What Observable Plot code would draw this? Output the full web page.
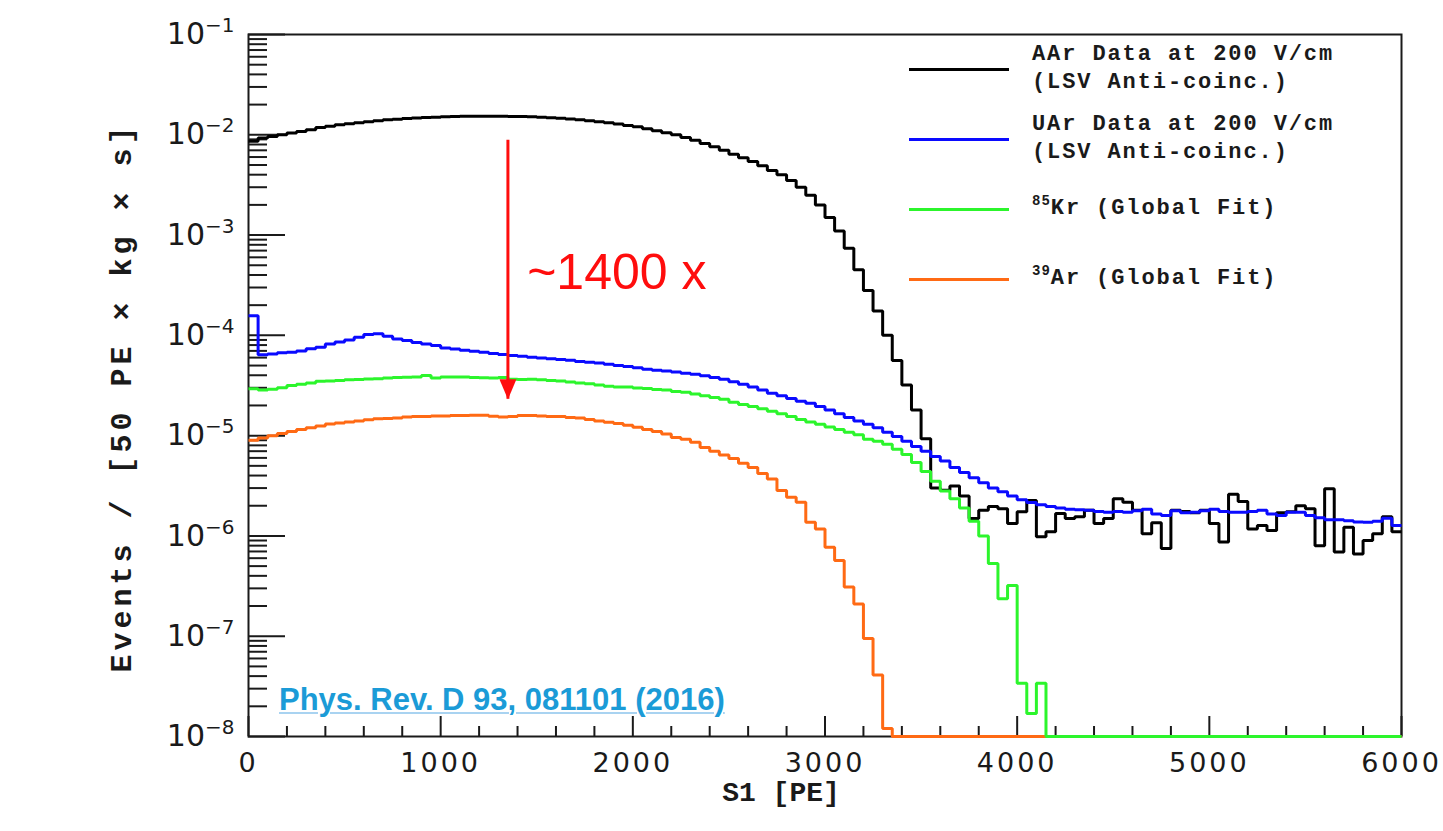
<!DOCTYPE html>
<html>
<head>
<meta charset="utf-8">
<script src="https://cdn.jsdelivr.net/npm/d3@7"></script>
<script src="https://cdn.jsdelivr.net/npm/@observablehq/plot@0.6"></script>
<style>
  html, body { margin: 0; padding: 0; background: #ffffff; }
  #wrap { position: relative; width: 1443px; height: 831px; overflow: hidden; background: #fff; }
  #wrap svg { position: absolute; left: 0; top: 0; }
  g[aria-label="x-axis tick label"] text { letter-spacing: 3px; }
  .legline { position: absolute; height: 3px; width: 100px; left: 909px; }
  .legtxt { position: absolute; left: 1032px; font-family: "Liberation Mono", "Courier New", monospace; font-weight: bold; font-size: 22px; letter-spacing: 1.9px; line-height: 28px; color: #1a1a1a; white-space: pre; }
  .legtxt .sup { font-size: 14px; letter-spacing: 1px; position: relative; top: -9px; }
  #cite { position: absolute; left: 279px; top: 684px; font-family: "Liberation Sans", Arial, sans-serif; font-weight: bold; font-size: 31px; line-height: 1; color: #1b9bd7; text-decoration: underline; text-decoration-color: #a9d3f1; text-decoration-thickness: 2px; text-underline-offset: 2px; white-space: pre; }
</style>
</head>
<body>
<div id="wrap"></div>
<script>
// ---------------- data (rates per 50 PE bin, 0 .. 6000 PE) ----------------
const binWidth = 50;
const sMin = 0, sMax = 6000;

const aarRate = [
  8.6e-3, 9.3e-3, 9.6e-3, 1.0e-2, 1.04e-2, 1.08e-2, 1.12e-2, 1.18e-2, 1.22e-2, 1.26e-2,
  1.29e-2, 1.32e-2, 1.35e-2, 1.38e-2, 1.41e-2, 1.43e-2, 1.45e-2, 1.47e-2, 1.49e-2, 1.5e-2,
  1.51e-2, 1.52e-2, 1.53e-2, 1.53e-2, 1.53e-2, 1.53e-2, 1.53e-2, 1.52e-2, 1.52e-2, 1.51e-2,
  1.5e-2, 1.48e-2, 1.46e-2, 1.44e-2, 1.41e-2, 1.38e-2, 1.35e-2, 1.32e-2, 1.28e-2, 1.24e-2,
  1.2e-2, 1.15e-2, 1.1e-2, 1.05e-2, 1.0e-2, 9.4e-3, 8.8e-3, 8.2e-3, 7.6e-3, 7.0e-3,
  6.4e-3, 5.9e-3, 5.4e-3, 4.9e-3, 4.4e-3, 4.0e-3, 3.5e-3, 3.0e-3, 2.5e-3, 2.0e-3,
  1.5e-3, 1.1e-3, 7.4e-4, 4.5e-4, 2.8e-4, 1.75e-4, 1.0e-4, 5.6e-5, 3.2e-5, 1.8e-5,
  9.3e-6, 3.0e-6, 2.86e-6, 3.15e-6, 2.5e-6, 1.49e-6, 1.8e-6, 1.97e-6, 1.87e-6, 1.33e-6,
  1.74e-6, 2.26e-6, 9.8e-7, 1.1e-6, 1.67e-6, 1.49e-6, 1.55e-6, 1.8e-6, 1.33e-6, 1.49e-6,
  2.35e-6, 2.17e-6, 1.8e-6, 1.05e-6, 1.35e-6, 7.5e-7, 1.8e-6, 1.75e-6, 1.7e-6, 1.8e-6,
  1.33e-6, 8.7e-7, 2.6e-6, 2.2e-6, 1.17e-6, 1.27e-6, 1.13e-6, 1.7e-6, 1.74e-6, 2.0e-6,
  1.87e-6, 8.0e-7, 2.95e-6, 6.9e-7, 1.22e-6, 6.6e-7, 9.0e-7, 1.05e-6, 1.55e-6, 1.1e-6
];

const uarRate = [
  1.57e-4, 6.4e-5, 6.5e-5, 6.7e-5, 6.8e-5, 7.0e-5, 7.35e-5, 7.6e-5, 8.2e-5, 8.6e-5,
  9.0e-5, 9.6e-5, 1.02e-4, 1.04e-4, 9.8e-5, 9.2e-5, 8.9e-5, 8.5e-5, 8.2e-5, 7.9e-5,
  7.5e-5, 7.3e-5, 7.1e-5, 6.95e-5, 6.8e-5, 6.6e-5, 6.45e-5, 6.3e-5, 6.2e-5, 6.05e-5,
  5.95e-5, 5.83e-5, 5.75e-5, 5.65e-5, 5.5e-5, 5.4e-5, 5.3e-5, 5.15e-5, 5.0e-5, 4.9e-5,
  4.75e-5, 4.6e-5, 4.5e-5, 4.4e-5, 4.3e-5, 4.2e-5, 4.1e-5, 3.95e-5, 3.8e-5, 3.65e-5,
  3.45e-5, 3.25e-5, 3.05e-5, 2.85e-5, 2.65e-5, 2.5e-5, 2.35e-5, 2.2e-5, 2.1e-5, 1.95e-5,
  1.8e-5, 1.65e-5, 1.52e-5, 1.4e-5, 1.3e-5, 1.2e-5, 1.08e-5, 9.8e-6, 8.8e-6, 7.8e-6,
  7.0e-6, 6.2e-6, 5.6e-6, 4.8e-6, 4.3e-6, 3.8e-6, 3.4e-6, 3.0e-6, 2.75e-6, 2.5e-6,
  2.3e-6, 2.15e-6, 2.05e-6, 1.97e-6, 1.9e-6, 1.85e-6, 1.82e-6, 1.8e-6, 1.75e-6, 1.72e-6,
  1.75e-6, 1.72e-6, 1.78e-6, 1.85e-6, 1.65e-6, 1.6e-6, 1.78e-6, 1.7e-6, 1.72e-6, 1.78e-6,
  1.85e-6, 1.75e-6, 1.72e-6, 1.72e-6, 1.75e-6, 1.8e-6, 1.65e-6, 1.6e-6, 1.72e-6, 1.72e-6,
  1.6e-6, 1.52e-6, 1.45e-6, 1.45e-6, 1.42e-6, 1.38e-6, 1.37e-6, 1.4e-6, 1.5e-6, 1.27e-6
];

const kr85Fit = [
  2.93e-5, 2.85e-5, 2.9e-5, 3.0e-5, 3.16e-5, 3.25e-5, 3.35e-5, 3.48e-5, 3.5e-5, 3.55e-5,
  3.6e-5, 3.62e-5, 3.68e-5, 3.7e-5, 3.75e-5, 3.8e-5, 3.82e-5, 3.85e-5, 3.98e-5, 3.75e-5,
  3.85e-5, 3.85e-5, 3.85e-5, 3.8e-5, 3.78e-5, 3.75e-5, 3.8e-5, 3.65e-5, 3.62e-5, 3.65e-5,
  3.6e-5, 3.55e-5, 3.5e-5, 3.42e-5, 3.35e-5, 3.3e-5, 3.2e-5, 3.1e-5, 3.05e-5, 3.05e-5,
  2.99e-5, 2.95e-5, 2.88e-5, 2.85e-5, 2.75e-5, 2.71e-5, 2.6e-5, 2.5e-5, 2.4e-5, 2.3e-5,
  2.15e-5, 2.05e-5, 1.95e-5, 1.85e-5, 1.75e-5, 1.65e-5, 1.55e-5, 1.45e-5, 1.37e-5, 1.3e-5,
  1.22e-5, 1.15e-5, 1.08e-5, 1.02e-5, 9.2e-6, 8.8e-6, 8.2e-6, 7.3e-6, 6.5e-6, 5.4e-6,
  4.4e-6, 3.5e-6, 2.8e-6, 2.35e-6, 1.9e-6, 1.4e-6, 1.0e-6, 5.3e-7, 2.36e-7, 3.2e-7,
  3.4e-8, 1.7e-8, 3.4e-8, 0, 0, 0, 0, 0, 0, 0,
  0, 0, 0, 0, 0, 0, 0, 0, 0, 0,
  0, 0, 0, 0, 0, 0, 0, 0, 0, 0,
  0, 0, 0, 0, 0, 0, 0, 0, 0, 0
];

const ar39Fit = [
  9.0e-6, 9.5e-6, 1.0e-5, 1.05e-5, 1.1e-5, 1.15e-5, 1.2e-5, 1.25e-5, 1.31e-5, 1.34e-5,
  1.37e-5, 1.4e-5, 1.44e-5, 1.47e-5, 1.48e-5, 1.5e-5, 1.53e-5, 1.55e-5, 1.55e-5, 1.57e-5,
  1.57e-5, 1.59e-5, 1.59e-5, 1.6e-5, 1.6e-5, 1.56e-5, 1.53e-5, 1.55e-5, 1.59e-5, 1.59e-5,
  1.57e-5, 1.55e-5, 1.55e-5, 1.52e-5, 1.5e-5, 1.45e-5, 1.4e-5, 1.36e-5, 1.32e-5, 1.27e-5,
  1.21e-5, 1.15e-5, 1.1e-5, 1.04e-5, 9.6e-6, 9.2e-6, 8.6e-6, 7.6e-6, 7.0e-6, 6.4e-6,
  5.9e-6, 5.3e-6, 4.8e-6, 4.2e-6, 3.7e-6, 2.84e-6, 2.43e-6, 2.17e-6, 1.37e-6, 1.17e-6,
  7.7e-7, 5.7e-7, 3.1e-7, 2.1e-7, 9.5e-8, 4.1e-8, 1.2e-8, 0, 0, 0,
  0, 0, 0, 0, 0, 0, 0, 0, 0, 0,
  0, 0, 0, 0, 0, 0, 0, 0, 0, 0,
  0, 0, 0, 0, 0, 0, 0, 0, 0, 0,
  0, 0, 0, 0, 0, 0, 0, 0, 0, 0,
  0, 0, 0, 0, 0, 0, 0, 0, 0, 0
];

const seriesNames = ["AAr Data at 200 V/cm (LSV Anti-coinc.)", "UAr Data at 200 V/cm (LSV Anti-coinc.)", "85Kr (Global Fit)", "39Ar (Global Fit)"];
const seriesColors = ["#000000", "#0a0aff", "#2cf52c", "#ff6a14"];

// axis ticks
const xMajorTicks = [0, 1000, 2000, 3000, 4000, 5000, 6000];
const xMinorTicks = [200, 400, 600, 800, 1200, 1400, 1600, 1800, 2200, 2400, 2600, 2800, 3200, 3400, 3600, 3800, 4200, 4400, 4600, 4800, 5200, 5400, 5600, 5800];
const yMajorTicks = [1e-8, 1e-7, 1e-6, 1e-5, 1e-4, 1e-3, 1e-2, 1e-1];
const yMinorMantissas = [2, 3, 4, 5, 6, 7, 8, 9];
const xTitle = "S1 [PE]";
const yTitle = "Events / [50 PE \u00d7 kg \u00d7 s]";

// annotation
const ratioLabel = "~1400 x";
const ratioArrow = {x: 1350, y1: 8.8e-3, y2: 2.3e-5};
const ratioLabelAt = {x: 1450, y: 4.2e-4};
const citation = "Phys. Rev. D 93, 081101 (2016)";

// legend
const legendLines = [
  ["AAr Data at 200 V/cm", "(LSV Anti-coinc.)"],
  ["UAr Data at 200 V/cm", "(LSV Anti-coinc.)"],
  [{sup: "85", rest: "Kr (Global Fit)"}],
  [{sup: "39", rest: "Ar (Global Fit)"}]
];

// ---------------- build ----------------
const yFloor = yMajorTicks[0];
const edges = d3.range(sMin, sMax + binWidth, binWidth);
const yMinorTicks = yMajorTicks.slice(0, -1).flatMap(d => yMinorMantissas.map(m => m * d));

function histSteps(vals) {
  return vals.flatMap((v, i) => {
    const y = Math.max(v, yFloor);
    return [{x: edges[i], y}, {x: edges[i + 1], y}];
  });
}

const headSymbol = {
  draw(ctx) { ctx.moveTo(0, 0); ctx.lineTo(-8.5, -20); ctx.lineTo(8.5, -20); ctx.closePath(); }
};

const drawOrder = [
  [aarRate, seriesColors[0]],
  [ar39Fit, seriesColors[3]],
  [kr85Fit, seriesColors[2]],
  [uarRate, seriesColors[1]]
];

const axisInk = "#1a1a1a";

const chart = Plot.plot({
  width: 1443, height: 831,
  marginLeft: 248, marginRight: 42, marginTop: 34, marginBottom: 95,
  style: {background: "#ffffff", color: axisInk, overflow: "visible"},
  x: {type: "linear", domain: [sMin, sMax]},
  y: {type: "log", domain: [yMajorTicks[0], yMajorTicks[yMajorTicks.length - 1]]},
  marks: [
    Plot.axisY(yMinorTicks, {tickSize: -19, strokeWidth: 2, stroke: axisInk, fill: "none", label: null}),
    Plot.axisY(yMajorTicks, {tickSize: -37, strokeWidth: 2, stroke: axisInk, fill: "none", label: null}),
    Plot.axisY(yMajorTicks, {tickSize: 0, tickPadding: 14, fill: axisInk, label: null,
      tickFormat: d => "10^" + Math.round(Math.log10(d)),
      fontSize: 30, fontFamily: "DejaVu Sans"}),
    Plot.axisX(xMinorTicks, {tickSize: -10, strokeWidth: 2, stroke: axisInk, fill: "none", label: null}),
    Plot.axisX(xMajorTicks, {tickSize: -20, strokeWidth: 2, stroke: axisInk, fill: "none", label: null}),
    Plot.axisX(xMajorTicks, {tickSize: 0, tickPadding: 16, fill: axisInk, label: null,
      tickFormat: d => String(d), fontSize: 27, fontFamily: "DejaVu Sans"}),
    Plot.frame({stroke: axisInk, strokeWidth: 2}),
    ...drawOrder.map(([vals, color]) => Plot.line(histSteps(vals), {
      x: "x", y: "y", stroke: color, strokeWidth: 3, strokeLinejoin: "miter", strokeLinecap: "butt"
    })),
    Plot.ruleX([ratioArrow], {x: "x", y1: "y1", y2: "y2", stroke: "#ff0d0d", strokeWidth: 3}),
    Plot.dot([ratioArrow], {x: "x", y: "y2", symbol: headSymbol, fill: "#ff0d0d", stroke: "none", r: 6}),
    Plot.text([ratioLabel], {x: ratioLabelAt.x, y: ratioLabelAt.y, text: d => d, textAnchor: "start",
      fill: "#ff0d0d", fontSize: 50, fontFamily: "Liberation Sans, Arial, sans-serif"}),
    Plot.text([yTitle], {frameAnchor: "left", text: d => d, rotate: -90, dx: -127, dy: 12, textAnchor: "middle",
      fontSize: 30, fontWeight: "bold", fontFamily: "Liberation Mono, Courier New, monospace", fill: axisInk}),
    Plot.text([xTitle], {frameAnchor: "bottom", text: d => d, dx: -44, dy: 64, textAnchor: "middle",
      fontSize: 28, fontWeight: "bold", fontFamily: "Liberation Mono, Courier New, monospace", fill: axisInk})
  ]
});

// superscript exponents on the y tick labels
d3.select(chart).selectAll('g[aria-label="y-axis tick label"] text').each(function () {
  const s = d3.select(this);
  const e = this.textContent.split("^")[1];
  s.text("10");
  s.append("tspan").attr("dy", "-12px").attr("font-size", "20px")
    .text(e.replace("-", "\u2212"));
});
// letter spacing on the y title
d3.select(chart).selectAll("text").each(function () {
  if (this.textContent === yTitle) this.style.letterSpacing = "4px";
});

const wrap = document.getElementById("wrap");
wrap.appendChild(chart);

// legend (inside the frame, top right)
const legendRows = [
  {line: 69, text: [55, 83]},
  {line: 139.5, text: [125, 153]},
  {line: 209.5, text: [209]},
  {line: 279.5, text: [279]}
];
legendLines.forEach((lines, i) => {
  const ln = document.createElement("div");
  ln.className = "legline";
  ln.style.top = (legendRows[i].line - 1.5) + "px";
  ln.style.background = seriesColors[i];
  wrap.appendChild(ln);
  lines.forEach((t, j) => {
    const d = document.createElement("div");
    d.className = "legtxt";
    d.style.top = (legendRows[i].text[j] - 14) + "px";
    if (typeof t === "string") d.textContent = t;
    else {
      const sp = document.createElement("span");
      sp.className = "sup";
      sp.textContent = t.sup;
      d.appendChild(sp);
      d.appendChild(document.createTextNode(t.rest));
    }
    wrap.appendChild(d);
  });
});

const cite = document.createElement("div");
cite.id = "cite";
cite.textContent = citation;
wrap.appendChild(cite);
</script>
</body>
</html>
